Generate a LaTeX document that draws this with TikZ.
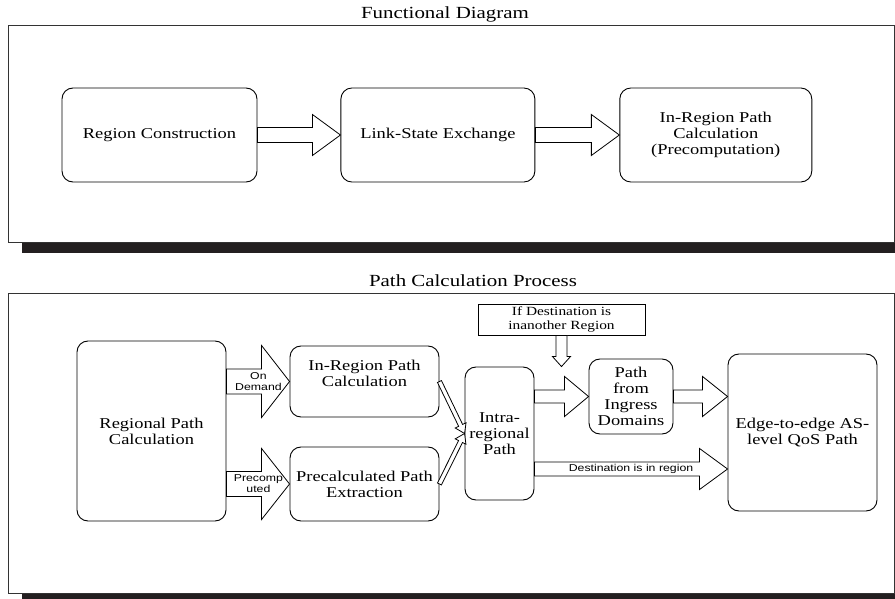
\documentclass[tikz,border=0pt]{standalone}
\usepackage{fontspec}
\setmainfont{Liberation Serif}[FakeStretch=1.23]
\newfontfamily\labelfont{Liberation Sans}[FakeStretch=1.23]
\usetikzlibrary{calc,positioning}
\definecolor{shadowgray}{HTML}{231F20}

% hollow block arrow: from, to, shaft half width, head half width, head length
\newcommand{\blockarrow}[5]{%
  \coordinate (ba-s) at (#1);
  \coordinate (ba-t) at (#2);
  \coordinate (ba-h) at ($(ba-t)!#5!(ba-s)$);
  \draw[barrow] ($(ba-s)!#3!90:(ba-t)$) -- ($(ba-h)!#3!90:(ba-t)$) -- ($(ba-h)!#4!90:(ba-t)$) -- (ba-t)
    -- ($(ba-h)!#4!-90:(ba-t)$) -- ($(ba-h)!#3!-90:(ba-t)$) -- ($(ba-s)!#3!-90:(ba-t)$) -- cycle;
}

\begin{document}
\begin{tikzpicture}[x=1pt,y=-1pt,
  box/.style={draw,rounded corners=11pt,line width=0.9pt,align=center,inner sep=0pt,
    font=\fontsize{15}{16}\selectfont},
  panel/.style={draw=black!80,fill=white,line width=0.9pt},
  shadowbar/.style={fill=shadowgray},
  paneltitle/.style={font=\fontsize{17}{18}\selectfont},
  barrow/.style={draw,fill=white,line width=0.8pt,line join=miter},
  lbl/.style={font=\labelfont\fontsize{10}{11}\selectfont,align=center,inner sep=0pt}]
  \useasboundingbox (0,0) rectangle (895,599);

  % Functional Diagram
  \node[paneltitle] (t1) at (445,14) {Functional Diagram};
  \fill[shadowbar] (22,36) rectangle (895,253);
  \draw[panel] (8,25) rectangle (894,242);

  \node[box,minimum width=195pt,minimum height=94pt] (rc) at (159.5,135) {Region Construction};
  \node[box,minimum width=194pt,minimum height=94pt] (lse) [right=83pt of rc] {Link-State Exchange};
  \node[box,minimum width=192pt,minimum height=94pt] (irpc) [right=84pt of lse] {In-Region Path\\Calculation\\(Precomputation)};

  \blockarrow{rc.east}{lse.west}{7.5pt}{20.5pt}{28pt}
  \blockarrow{lse.east}{irpc.west}{7.5pt}{20.5pt}{28pt}

  % Path Calculation Process
  \node[paneltitle] (t2) at (473,281) {Path Calculation Process};
  \fill[shadowbar] (22,304) rectangle (895,599);
  \draw[panel] (8,293) rectangle (894,593);

  \node[box,minimum width=149pt,minimum height=180pt] (rpc) at (151.5,431) {Regional Path\\Calculation};
  \node[box,minimum width=149pt,minimum height=71pt] (inreg) at (364.5,381.5) {In-Region Path\\Calculation\\\mbox{}};
  \node[box,minimum width=149pt,minimum height=74pt] (pce) at (364.5,484) {Precalculated Path\\Extraction};
  \node[draw,line width=0.9pt,minimum width=167pt,minimum height=31pt,inner sep=0pt,align=center,
    font=\fontsize{12.5}{14}\selectfont] (cond) at (561.5,319.5) {If Destination is\\inanother Region};
  \node[box,minimum width=69pt,minimum height=133pt] (irp) at (499.5,433.5) {Intra-\\regional\\Path};
  \node[box,minimum width=84pt,minimum height=75pt] (pid) at (631,396.5) {Path\\from\\Ingress\\Domains};
  \node[box,minimum width=149pt,minimum height=157pt] (e2e) at (802.5,432.5) {Edge-to-edge AS-\\level QoS Path};
  \coordinate (dst) at ($(irp.east)+(0,35.5)$);

  \blockarrow{rpc.east |- inreg.west}{inreg.west}{12.5pt}{36pt}{28pt}
  \blockarrow{rpc.east |- pce.west}{pce.west}{12.5pt}{35.5pt}{28pt}
  \blockarrow{inreg.east}{irp.west}{2.2pt}{6pt}{9pt}
  \blockarrow{pce.east}{irp.west}{2.2pt}{6pt}{9pt}
  \blockarrow{cond.south}{cond.south |- irp.north}{5.5pt}{9pt}{10pt}
  \blockarrow{irp.east |- pid.west}{pid.west}{6.5pt}{20pt}{24pt}
  \blockarrow{pid.east}{e2e.west |- pid.east}{6.5pt}{20pt}{25pt}
  \blockarrow{dst}{e2e.west |- dst}{7pt}{20.5pt}{28pt}

  \node[lbl] (odl) at ($(rpc.east |- inreg.west)+(32,0)$) {On\\Demand};
  \node[lbl] (pcl) at ($(rpc.east |- pce.west)+(32,0)$) {Precomp\\uted};
  \node[lbl] (dstl) at ($(dst)!0.5!(e2e.west |- dst)$) {Destination is in region};
\end{tikzpicture}
\end{document}
